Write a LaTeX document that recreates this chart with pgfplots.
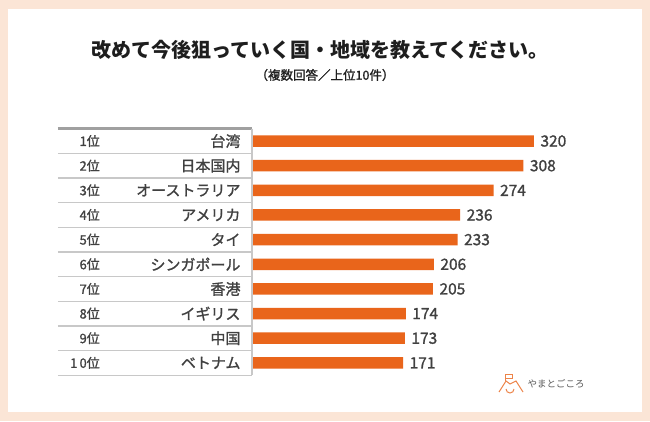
\documentclass[border=0pt]{standalone}
\usepackage{fontspec}
\setmainfont{Noto Sans CJK JP}
\newfontfamily\medfont[FakeBold=1.2]{Noto Sans CJK JP}
\usepackage{pgfplots}
\pgfplotsset{compat=1.18}
\definecolor{barorange}{RGB}{233,101,27}
\definecolor{frame}{RGB}{251,229,214}
\definecolor{txt}{RGB}{30,30,30}
\definecolor{val}{RGB}{64,64,64}
\definecolor{grid}{RGB}{200,200,200}
\begin{document}
\begin{tikzpicture}[x=1pt,y=1pt]
\fill[frame] (0,0) rectangle (650,421);
\fill[white] (8,9) rectangle (642,412);
\node[font=\bfseries\fontsize{20}{24}\selectfont, text=txt] at (320,371) {改めて今後狙っていく国・地域を教えてください。};
\node[font=\medfont\fontsize{12.5}{15}\selectfont, text=txt] at (325,346) {（複数回答／上位10件）};
\begin{axis}[
  at={(253pt,45.8pt)}, anchor=south west,
  scale only axis, width=351.2pt, height=246.5pt,
  xmin=0, xmax=400, ymin=0.5, ymax=10.5, y dir=reverse,
  axis line style={draw=none},
  xtick=\empty,
  ytick={1,...,10},
  yticklabels={台湾,日本国内,オーストラリア,アメリカ,タイ,シンガポール,香港,イギリス,中国,ベトナム},
  yticklabel style={font=\medfont\fontsize{15}{18}\selectfont, text=val, anchor=east, xshift=-9pt},
  major tick length=0pt,
  clip=false,
  xbar, bar width=11.5pt,
  nodes near coords,
  /pgf/number format/assume math mode=true,
  every node near coord/.append style={font=\medfont\fontsize{15.5}{18}\selectfont, text=val, anchor=west, xshift=3pt},
]
\addplot[fill=barorange, draw=none] coordinates {
(320,1) (308,2) (274,3) (236,4) (233,5) (206,6) (205,7) (174,8) (173,9) (171,10)};
\pgfplotsinvokeforeach{1.5,2.5,3.5,4.5,5.5,6.5,7.5,8.5,9.5}{
  \draw[grid, line width=1.3pt] ([xshift=-195pt]axis cs:0,#1) -- ([xshift=-1pt]axis cs:0,#1);
}
\draw[grid!80!black, line width=2.5pt] ([xshift=-195pt]axis cs:0,0.5) -- ([xshift=-1pt]axis cs:0,0.5);
\draw[grid, line width=1.3pt] ([xshift=-195pt]axis cs:0,10.5) -- ([xshift=-1pt]axis cs:0,10.5);
\draw[grid, line width=1.3pt] ([xshift=-1pt]axis cs:0,0.5) -- ([xshift=-1pt]axis cs:0,10.5);
\node[anchor=east, font=\medfont\fontsize{13}{15}\selectfont, text=val, inner sep=0pt] at ([xshift=-153pt]axis cs:0,1) {1位};
\node[anchor=east, font=\medfont\fontsize{13}{15}\selectfont, text=val, inner sep=0pt] at ([xshift=-153pt]axis cs:0,2) {2位};
\node[anchor=east, font=\medfont\fontsize{13}{15}\selectfont, text=val, inner sep=0pt] at ([xshift=-153pt]axis cs:0,3) {3位};
\node[anchor=east, font=\medfont\fontsize{13}{15}\selectfont, text=val, inner sep=0pt] at ([xshift=-153pt]axis cs:0,4) {4位};
\node[anchor=east, font=\medfont\fontsize{13}{15}\selectfont, text=val, inner sep=0pt] at ([xshift=-153pt]axis cs:0,5) {5位};
\node[anchor=east, font=\medfont\fontsize{13}{15}\selectfont, text=val, inner sep=0pt] at ([xshift=-153pt]axis cs:0,6) {6位};
\node[anchor=east, font=\medfont\fontsize{13}{15}\selectfont, text=val, inner sep=0pt] at ([xshift=-153pt]axis cs:0,7) {7位};
\node[anchor=east, font=\medfont\fontsize{13}{15}\selectfont, text=val, inner sep=0pt] at ([xshift=-153pt]axis cs:0,8) {8位};
\node[anchor=east, font=\medfont\fontsize{13}{15}\selectfont, text=val, inner sep=0pt] at ([xshift=-153pt]axis cs:0,9) {9位};
\node[anchor=east, font=\medfont\fontsize{13}{15}\selectfont, text=val, inner sep=0pt] at ([xshift=-153pt]axis cs:0,10) {1\,0位};
\end{axis}
% logo
\begin{scope}[line width=1pt, draw=barorange!80]
\draw (499,29) -- (506,40) -- (510,37) -- (516,40) -- (523,29);
\draw (505,40) -- (505,47);
\draw (505,47) rectangle (512,43);
\draw (506,32) arc (180:360:4);
\end{scope}
\node[anchor=west, font=\fontsize{9.5}{12}\selectfont, text=black!65] at (524,37) {やまとごころ};
\end{tikzpicture}
\end{document}
